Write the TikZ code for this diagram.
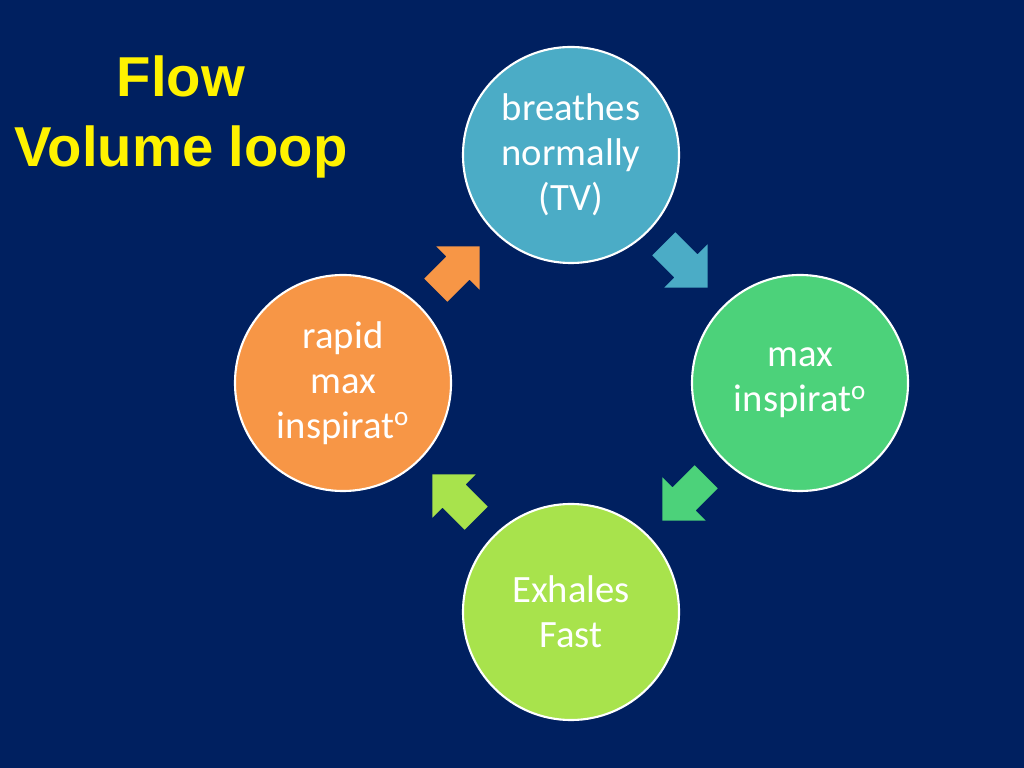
\documentclass[tikz,border=0pt]{standalone}
\usepackage{fontspec}
\setmainfont{Carlito}
\newfontfamily\titlefont{Liberation Sans}
\usetikzlibrary{shapes.arrows}
\definecolor{bgblue}{HTML}{002060}
\definecolor{cyclea}{HTML}{4BACC6}
\definecolor{cycleb}{HTML}{4CD27A}
\definecolor{cyclec}{HTML}{A8E34C}
\definecolor{cycled}{HTML}{F79646}
\tikzset{
  stage/.style={circle, draw=white, line width=1.5pt, minimum size=5.4cm,
    text=white, align=center, font=\fontsize{27.5}{32}\selectfont},
  turn/.style={single arrow, single arrow head extend=0.36cm, minimum height=1.55cm,
    inner sep=0.4cm, draw=none},
  title/.style={text=yellow, font=\titlefont\bfseries\fontsize{40}{50}\selectfont, align=center}
}
\begin{document}
\begin{tikzpicture}[x=0.025cm,y=0.025cm]
  \fill[bgblue] (0,0) rectangle (1024,768);
  % Title
  \node[title] (head) at (181,651) {Flow\\Volume loop};
  % Cycle
  \node[stage, fill=cyclea] (breath) at (571,613) {breathes\\normally\\(TV)};
  \node[stage, fill=cycleb] (maxin) at (800,385) {max\\inspirat\textsuperscript{o}};
  \node[stage, fill=cyclec] (exhale) at (571,156) {Exhales\\Fast};
  \node[stage, fill=cycled] (rapid) at (343,385) {rapid\\max\\inspirat\textsuperscript{o}};
  % Arrows
  \node[turn, fill=cyclea, rotate=-45] (ab) at (680,508) {};
  \node[turn, fill=cycleb, rotate=-135] (bc) at (690,275) {};
  \node[turn, fill=cyclec, rotate=135] (cd) at (460,266) {};
  \node[turn, fill=cycled, rotate=45] (da) at (452,494) {};
\end{tikzpicture}
\end{document}
